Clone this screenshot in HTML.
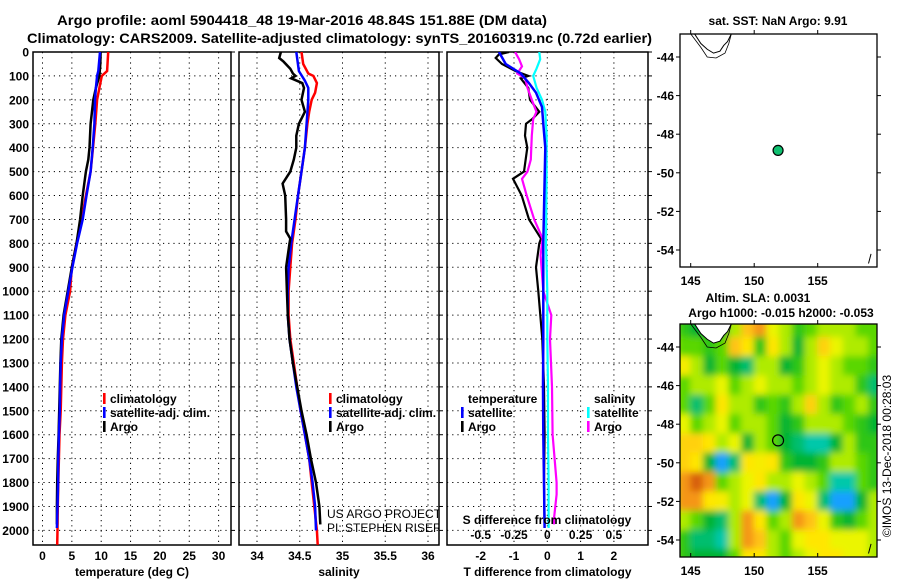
<!DOCTYPE html>
<html><head><meta charset="utf-8">
<style>
html,body{margin:0;padding:0;background:#fff;}
svg{display:block;}
text{font-family:"Liberation Sans",Arial,sans-serif;font-weight:bold;font-size:12px;fill:#000;}
.t14{font-size:14px;}
.thin{font-weight:normal;}
</style></head>
<body>
<svg id="chart" width="900" height="580" viewBox="0 0 900 580" xmlns="http://www.w3.org/2000/svg">
<defs>
<clipPath id="clipP1"><rect x="33" y="52" width="198" height="493"/></clipPath>
<clipPath id="clipP2"><rect x="239" y="52" width="200" height="493"/></clipPath>
<clipPath id="clipP3"><rect x="447" y="52" width="201" height="493"/></clipPath>
<clipPath id="clipM1"><rect x="680" y="34" width="197" height="233"/></clipPath>
<clipPath id="clipM2"><rect x="680" y="324" width="197" height="233"/></clipPath>
<filter id="blurF" x="-5%" y="-5%" width="110%" height="110%"><feGaussianBlur stdDeviation="3.5"/></filter>
</defs>
<text class="t14" x="57" y="25" textLength="490" lengthAdjust="spacingAndGlyphs">Argo profile: aoml 5904418_48 19-Mar-2016 48.84S 151.88E (DM data)</text>
<text class="t14" x="27" y="43" textLength="625" lengthAdjust="spacingAndGlyphs">Climatology: CARS2009. Satellite-adjusted climatology: synTS_20160319.nc (0.72d earlier)</text>
<g id="layer"></g>
</svg>
<script>
// ---------- data ----------
const depthTicks = [0,100,200,300,400,500,600,700,800,900,1000,1100,1200,1300,1400,1500,1600,1700,1800,1900,2000];
const tempTicks = [0,5,10,15,20,25,30];
const salTicks = [34,34.5,35,35.5,36];
const salTickLabels = ['34','34.5','35','35.5','36'];
const dtTicks = [-2,-1,0,1,2];
const dsTicks = [-0.5,-0.25,0,0.25,0.5];
const dsTickLabels = ['-0.5','-0.25','0','0.25','0.5'];

const climTDepth = [0,80,100,150,200,300,400,500,600,700,800,900,1000,1100,1200,1300,1400,1500,1600,1700,1800,1900,2000,2060];
const climT = [11.2,11.0,10.1,9.7,9.3,9.0,8.6,8.2,7.4,6.7,5.8,5.0,4.7,3.9,3.5,3.3,3.2,3.1,2.9,2.8,2.7,2.6,2.55,2.5];
const satTDepth = [0,80,100,150,200,300,400,500,600,700,800,900,1000,1100,1200,1300,1400,1500,1600,1700,1800,1900,1990];
const satT = [9.8,9.5,9.3,9.1,8.95,8.85,8.55,8.2,7.5,6.85,5.9,5.1,4.4,3.7,3.3,3.1,3.0,2.95,2.8,2.7,2.65,2.55,2.45];
const argoTDepth = [0,50,100,150,200,300,400,450,500,600,700,800,900,1000,1100,1200,1300,1400,1500,1600,1700,1800,1900,1975];
const argoT = [9.9,9.85,9.7,9.1,8.65,8.2,8.0,7.8,7.4,6.85,6.4,5.8,5.0,4.3,3.6,3.2,3.05,2.95,2.85,2.75,2.6,2.5,2.45,2.45];

const climSDepth = [0,50,90,100,130,170,200,250,300,400,500,600,700,800,900,1000,1100,1200,1300,1400,1500,1600,1700,1800,1900,2000,2060];
const climS = [34.52,34.54,34.60,34.66,34.70,34.68,34.64,34.61,34.59,34.56,34.52,34.48,34.45,34.41,34.39,34.37,34.37,34.39,34.43,34.47,34.51,34.56,34.61,34.64,34.67,34.70,34.71];
const satSDepth = [0,80,120,150,200,300,400,500,600,700,800,900,1000,1100,1200,1300,1400,1500,1600,1700,1800,1900,2000];
const satS = [34.46,34.49,34.56,34.60,34.60,34.58,34.56,34.52,34.48,34.44,34.40,34.37,34.36,34.36,34.38,34.42,34.46,34.51,34.56,34.61,34.65,34.68,34.69];
const argoSDepth = [0,25,40,70,90,100,110,130,150,200,250,300,350,400,450,500,550,600,700,750,780,800,900,1000,1100,1200,1300,1400,1500,1600,1700,1800,1900,1975];
const argoS = [34.28,34.26,34.31,34.39,34.42,34.45,34.40,34.53,34.55,34.52,34.56,34.49,34.46,34.46,34.43,34.39,34.30,34.33,34.34,34.34,34.39,34.38,34.34,34.35,34.36,34.38,34.42,34.47,34.52,34.58,34.63,34.69,34.73,34.74];

const argoDTDepth = [0,10,25,50,80,100,110,150,200,250,280,300,350,400,500,530,600,700,780,800,900,1000,1200,1400,1600,1800,1975];
const argoDT = [-1.15,-1.45,-1.55,-1.36,-0.95,-0.57,-0.8,-0.57,-0.52,-0.24,-0.45,-0.64,-0.67,-0.6,-0.7,-1.03,-0.77,-0.55,-0.19,-0.24,-0.34,-0.27,-0.15,-0.1,-0.08,-0.1,-0.08];
const satDTDepth = [0,50,90,130,170,230,300,400,600,800,1000,1200,1400,1600,1800,1990];
const satDT = [-1.45,-1.25,-0.8,-0.55,-0.34,-0.16,-0.12,-0.06,-0.09,-0.12,-0.12,-0.12,-0.13,-0.12,-0.1,-0.08];
const argoDSDepth = [0,30,60,90,110,150,200,250,280,350,450,500,530,600,700,780,850,1000,1100,1200,1400,1600,1800,1850,1950,1975];
const argoDS = [-0.242,-0.212,-0.19,-0.225,-0.167,-0.149,-0.116,-0.081,-0.106,-0.116,-0.124,-0.149,-0.19,-0.155,-0.098,-0.035,-0.05,-0.03,0.03,0.02,0.035,0.04,0.07,0.07,0.05,0.05];
const satDSDepth = [0,30,70,100,150,200,250,350,500,800,1000,1200,1400,1600,1800,1990];
const satDS = [-0.06,-0.053,-0.081,-0.106,-0.08,-0.04,-0.015,-0.005,-0.005,-0.01,0,0,0.005,0.005,0.01,0.01];

const lonTicks = [145,150,155];
const latTicks = [-44,-46,-48,-50,-52,-54];
const argoLon = 151.88;
const argoLat = -48.84;
const slaLons = [144.5,145.5,146.5,147.5,148.5,149.5,150.5,151.5,152.5,153.5,154.5,155.5,156.5,157.5,158.5,159.5];
const slaLats = [-43,-44,-45,-46,-47,-48,-49,-50,-51,-52,-53,-54,-55];
const slaGrid = [
[-1.5,-2,-2,-2,-0.5,1,1.5,0,-0.5,-1.5,-1,-0.5,-0.5,-0.5,-1,-1],
[-1,-1,-1.5,-1,1,0.5,-1.5,0.5,-0.5,-2,-0.5,0.8,0,-0.5,-0.5,-1],
[0.3,-0.5,-2,-1,-2,-2.5,-0.5,-0.5,-2,-1.5,-0.5,0,-0.5,-1,-1,-1.5],
[-1,-0.5,-0.5,0,-1,-0.5,0,-0.5,-0.5,-1,-0.5,0,-0.5,-0.5,-1.5,-2.5],
[-1,-2.5,-1,0.5,-0.5,-0.5,-1.5,-1,-1.5,-0.5,0.8,-0.5,-1.5,-1,-0.5,-1.5],
[0,-1,-0.5,0,-1,-0.5,-0.5,-1,-2,-1.5,-0.5,-0.5,-0.5,-1,-1.5,-2],
[0.8,0.8,0.5,-0.5,0,-2,-0.5,-1,-2,-2.5,-3,-3,-2,-0.5,-1.5,-1.5],
[0.8,0.5,-2,-4,-2.5,0.5,0.3,0.5,-1.5,-2,-2,-1.5,-0.5,-0.5,-1,-1.5],
[1.5,2,1.5,-1,-0.5,0,0.5,-0.5,-0.5,0,-0.5,-1,-3,-3,-1,-1.5],
[1.5,1.5,0.5,0.3,-0.5,0,-2.5,-4,-2,0.5,0,-2.5,-4,-4,-2,-0.5],
[-0.5,-1,-2,-2.5,-0.5,1.5,0.5,-1,-0.5,1.5,1,0,-1.5,-2,-1,-0.5],
[-1.5,-2.5,-2.5,-3,-0.5,1.5,1,-0.5,-1,0,0.5,0.5,0,0,0,-0.5],
[-1.5,-2,-2,-2,-1,0.5,0.5,-0.5,-1,-0.5,0,0.5,0.5,0,0,-0.5]];
const coastLon = [145.3,145.8,146.3,146.8,147.3,147.6,147.9,148.2];
const coastLat = [-42.8,-43.3,-43.6,-43.8,-43.7,-43.4,-43.2,-42.8];
const contourLon = [145.0,145.8,146.3,147.0,147.7,148.0,148.2];
const contourLat = [-42.8,-43.5,-44.0,-44.05,-43.8,-43.3,-42.8];

// ---------- helpers ----------
const NS = 'http://www.w3.org/2000/svg';
const layer = document.getElementById('layer');
function mk(tag, attrs, parent) {
  const e = document.createElementNS(NS, tag);
  for (const k in attrs) e.setAttribute(k, attrs[k]);
  (parent || layer).appendChild(e);
  return e;
}
const TOP = 52, BOT = 545;
const yD = d => TOP + d * 0.2392;
const xT = t => 42.5 + t * 5.87;
const xS = s => 257 + (s - 34) * 85.5;
const xDT = v => 547.3 + v * 33.3;
const xDS = v => 547.3 + v * 133.2;
const mX = lon => 690.7 + (lon - 145) * 12.7;
const mY1 = lat => 57 + (-44 - lat) * 19.3;
const mY2 = lat => 347 + (-44 - lat) * 19.3;

function panel(name, x0, x1, vticks, xf, labels, showY, title) {
  const g = mk('g', {});
  
  
  depthTicks.forEach(d => {
    const l = mk('line', {x1:x0, x2:x1, y1:yD(d), y2:yD(d), stroke:'#000', 'stroke-width':1, 'stroke-dasharray':'1.2,4'}, g);
    
    
    mk('line', {x1:x1, x2:x1+4, y1:yD(d), y2:yD(d), stroke:'#000', 'stroke-width':1}, g);
    if (showY) {
      const t = mk('text', {x:29, y:yD(d)+4.5, 'text-anchor':'end'}, g);
      t.textContent = d;
      
      
    }
  });
  vticks.forEach((v, i) => {
    const l = mk('line', {x1:xf(v), x2:xf(v), y1:TOP, y2:BOT, stroke:'#000', 'stroke-width':1, 'stroke-dasharray':'1.2,4'}, g);
    
    
    const t = mk('text', {x:xf(v), y:560, 'text-anchor':'middle'}, g);
    t.textContent = labels[i];
    
    
  });
  const r = mk('rect', {x:x0, y:TOP, width:x1-x0, height:BOT-TOP, fill:'none', stroke:'#000', 'stroke-width':1.5}, g);
  
  
  const tt = mk('text', {x:(x0+x1)/2, y:576, 'text-anchor':'middle'}, g);
  tt.textContent = title;
  
  
  return g;
}
function series(name, depths, vals, xf, color, w, clip) {
  const pts = vals.map((v, i) => xf(v).toFixed(1) + ',' + yD(depths[i]).toFixed(1)).join(' ');
  const p = mk('polyline', {points:pts, fill:'none', stroke:color, 'stroke-width':w, 'stroke-linejoin':'miter', 'clip-path':'url(#' + clip + ')'});
  
  
}
function legendEntry(name, x, y, color, label) {
  const r = mk('rect', {x:x, y:y-10, width:2.6, height:11, fill:color});
  
  
  const t = mk('text', {x:x+7, y:y});
  t.textContent = label;
  
  
}
function label(name, x, y, txt, cls, anchor) {
  const t = mk('text', {x:x, y:y, 'text-anchor':anchor || 'start'});
  if (cls) t.setAttribute('class', cls);
  t.textContent = txt;
  
  
  return t;
}

// ---------- panel 1: temperature ----------
panel('temperature-panel', 33, 231, tempTicks, xT, tempTicks.map(String), true, 'temperature (deg C)');
series('temperature-climatology-line', climTDepth, climT, xT, '#ff0000', 2.5, 'clipP1');
series('temperature-argo-line', argoTDepth, argoT, xT, '#000000', 2.5, 'clipP1');
series('temperature-satellite-line', satTDepth, satT, xT, '#0000ff', 2.5, 'clipP1');
legendEntry('legend-climatology', 103, 403, '#ff0000', 'climatology');
legendEntry('legend-satellite-adj', 103, 417, '#0000ff', 'satellite-adj. clim.');
legendEntry('legend-argo', 103, 431, '#000000', 'Argo');

// ---------- panel 2: salinity ----------
panel('salinity-panel', 239, 439, salTicks, xS, salTickLabels, false, 'salinity');
series('salinity-climatology-line', climSDepth, climS, xS, '#ff0000', 2.5, 'clipP2');
series('salinity-satellite-line', satSDepth, satS, xS, '#0000ff', 2.5, 'clipP2');
series('salinity-argo-line', argoSDepth, argoS, xS, '#000000', 2.5, 'clipP2');
legendEntry('legend-s-climatology', 329, 403, '#ff0000', 'climatology');
legendEntry('legend-s-satellite-adj', 329, 417, '#0000ff', 'satellite-adj. clim.');
legendEntry('legend-s-argo', 329, 431, '#000000', 'Argo');
const cg = mk('g', {'clip-path':'url(#clipP2)'});


const c1 = mk('text', {x:327, y:518, class:'thin'}, cg); c1.textContent = 'US ARGO PROJECT';
 
const c2 = mk('text', {x:327, y:532, class:'thin'}, cg); c2.textContent = 'PI: STEPHEN RISER';
 

// ---------- panel 3: differences ----------
panel('difference-panel', 447, 648, dtTicks, xDT, dtTicks.map(String), false, 'T difference from climatology');
series('temp-diff-argo-line', argoDTDepth, argoDT, xDT, '#000000', 2.2, 'clipP3');
series('sal-diff-argo-line', argoDSDepth, argoDS, xDS, '#ff00ff', 2.2, 'clipP3');
series('sal-diff-satellite-line', satDSDepth, satDS, xDS, '#00ffff', 2.2, 'clipP3');
series('temp-diff-satellite-line', satDTDepth, satDT, xDT, '#0000ff', 2.5, 'clipP3');
label('legend-temperature-header', 468, 403, 'temperature');
legendEntry('legend-t-satellite', 461, 417, '#0000ff', 'satellite');
legendEntry('legend-t-argo', 461, 431, '#000000', 'Argo');
label('legend-salinity-header', 594, 403, 'salinity');
legendEntry('legend-sal-satellite', 587, 417, '#00ffff', 'satellite');
legendEntry('legend-sal-argo', 587, 431, '#ff00ff', 'Argo');
label('s-diff-axis-title', 547, 524, 'S difference from climatology', null, 'middle');
dsTicks.forEach((v, i) => {
  label('s-diff-tick-label', xDS(v), 539, dsTickLabels[i], null, 'middle');
});

// ---------- maps ----------
const colorStops = [[-4,[20,160,255]],[-3,[0,200,170]],[-2,[0,180,50]],[-1,[90,215,0]],[-0.5,[175,235,0]],[0,[235,245,0]],[0.5,[255,230,0]],[1,[255,195,20]],[1.5,[245,150,20]],[2,[215,95,10]]];
function slaColor(v) {
  if (v <= colorStops[0][0]) return 'rgb(' + colorStops[0][1].join(',') + ')';
  for (let i = 1; i < colorStops.length; i++) {
    if (v <= colorStops[i][0]) {
      const [a, ca] = colorStops[i-1], [b, cb] = colorStops[i];
      const f = (v - a) / (b - a);
      return 'rgb(' + ca.map((c, k) => Math.round(c + (cb[k]-c)*f)).join(',') + ')';
    }
  }
  return 'rgb(' + colorStops[colorStops.length-1][1].join(',') + ')';
}
function mapFrame(name, top, yf, heat) {
  const g = mk('g', {});
  
  
  const clip = heat ? 'clipM2' : 'clipM1';
  if (heat) {
    const hg = mk('g', {'clip-path':'url(#' + clip + ')'}, g);
    mk('rect', {x:680, y:top, width:197, height:233, fill:'#c8ee00'}, hg);
    const bg = mk('g', {filter:'url(#blurF)'}, hg);
    slaLats.forEach((lat, r) => slaLons.forEach((lon, c) => {
      const v = slaGrid[r][c];
      const cell = mk('rect', {x:mX(lon-0.5)-0.5, y:yf(lat+0.5)-0.5, width:13.7, height:20.3, fill:slaColor(v)}, bg);
      
      
    }));
  }
  const lg = mk('g', {'clip-path':'url(#' + clip + ')'}, g);
  const cpts = coastLon.map((l, i) => mX(l) + ',' + yf(coastLat[i])).join(' ');
  const land = mk('polygon', {points:cpts, fill:'#fff', stroke:'#000', 'stroke-width':1}, lg);
  
  
  const opts = contourLon.map((l, i) => mX(l) + ',' + yf(contourLat[i])).join(' ');
  const ct = mk('polyline', {points:opts, fill:'none', stroke:'#000', 'stroke-width':0.8}, lg);
  
  
  mk('line', {x1:mX(159.2), y1:yf(-54.2), x2:mX(159.0), y2:yf(-54.7), stroke:'#000', 'stroke-width':1}, lg);
  const fr = mk('rect', {x:680, y:top, width:197, height:233, fill:'none', stroke:'#000', 'stroke-width':1.3}, g);
  
  
  lonTicks.forEach(l => {
    mk('line', {x1:mX(l), x2:mX(l), y1:top, y2:top-4, stroke:'#000'}, g);
    mk('line', {x1:mX(l), x2:mX(l), y1:top+233, y2:top+229, stroke:'#000'}, g);
    const t = mk('text', {x:mX(l), y:top+251, 'text-anchor':'middle'}, g);
    t.textContent = l;
    
    
  });
  latTicks.forEach(l => {
    mk('line', {x1:680, x2:676, y1:yf(l), y2:yf(l), stroke:'#000'}, g);
    mk('line', {x1:877, x2:881, y1:yf(l), y2:yf(l), stroke:'#000'}, g);
    const t = mk('text', {x:674, y:yf(l)+4.5, 'text-anchor':'end'}, g);
    t.textContent = l;
    
    
  });
  return g;
}
mapFrame('sst-map', 34, mY1, false);
label('sst-map-title', 778, 25, 'sat. SST: NaN Argo: 9.91', null, 'middle');
const dot = mk('circle', {cx:mX(argoLon), cy:mY1(argoLat), r:5, fill:'#10c070', stroke:'#000', 'stroke-width':1.2});



mapFrame('sla-map', 324, mY2, true);
label('sla-map-title-1', 758, 302, 'Altim. SLA: 0.0031', null, 'middle');
label('sla-map-title-2', 781, 317, 'Argo h1000: -0.015 h2000: -0.053', null, 'middle');
const ring = mk('circle', {cx:mX(argoLon), cy:mY2(argoLat), r:5.5, fill:'none', stroke:'#000', 'stroke-width':1.2});


const ts = label('timestamp', 0, 0, '\u00A9IMOS 13-Dec-2018 00:28:03', 'thin', 'middle');
ts.setAttribute('transform', 'translate(891,456) rotate(-90)');
</script>
</body></html>
